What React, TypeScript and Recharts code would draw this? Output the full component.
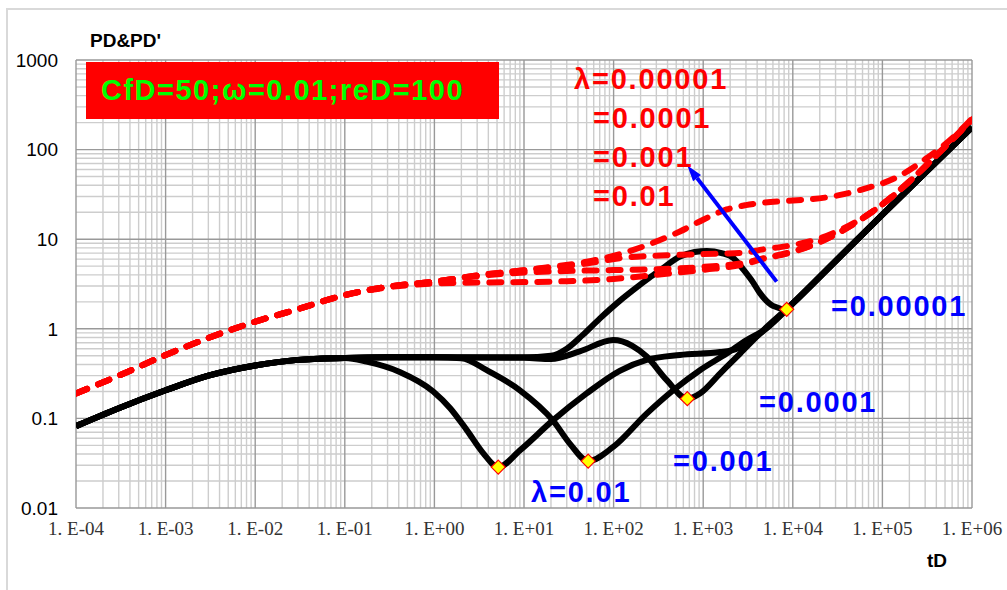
import React from 'react';
import { LineChart, Line, XAxis, YAxis, CartesianGrid, ReferenceLine } from 'recharts';

// axis ticks (log-log)
const xMajor = [1e-4, 1e-3, 1e-2, 1e-1, 1, 10, 100, 1e3, 1e4, 1e5, 1e6];
const xLabels = ['1. E-04', '1. E-03', '1. E-02', '1. E-01', '1. E+00', '1. E+01', '1. E+02', '1. E+03', '1. E+04', '1. E+05', '1. E+06'];
const yMajor = [0.01, 0.1, 1, 10, 100, 1000];
const yLabels = ['0.01', '0.1', '1', '10', '100', '1000'];
const minorSteps = [2, 3, 4, 5, 6, 7, 8, 9];

// PD' (black) — [tD, value]
const derivEarly = [[1e-4, 0.082], [3e-4, 0.13], [1e-3, 0.206], [3e-3, 0.3], [1e-2, 0.39], [3e-2, 0.45], [0.1, 0.472]];
const derivLate = [[1e4, 1.92], [3e4, 5.7], [1e5, 18.8], [3e5, 55], [1e6, 178]];
const derivL1e2 = [[0.175, 0.43], [0.41, 0.33], [0.97, 0.2], [1.5, 0.13], [2.3, 0.074], [3.5, 0.041], [5.16, 0.0286], [9, 0.044], [21, 0.095], [50, 0.19], [117, 0.34], [234, 0.45], [550, 0.51], [1540, 0.55], [2370, 0.6], [3300, 0.72], [5000, 1.0]];
const derivL1e3 = [[0.3, 0.48], [1, 0.48], [2, 0.47], [3.84, 0.345], [9, 0.206], [21, 0.095], [32.6, 0.052], [52, 0.0334], [99, 0.048], [234, 0.113], [463, 0.206], [920, 0.345], [1830, 0.53], [3060, 0.75], [5000, 1.0]];
const derivL1e4 = [[0.3, 0.48], [1, 0.48], [10, 0.475], [20, 0.46], [42, 0.56], [99, 0.75], [160, 0.65], [234, 0.49], [392, 0.267], [665, 0.166], [920, 0.19], [1540, 0.317], [2580, 0.53], [4300, 0.89]];
const derivL1e5 = [[0.3, 0.48], [1, 0.48], [10, 0.48], [20, 0.5], [30, 0.6], [45, 0.85], [70, 1.3], [117, 2.05], [165, 2.7], [250, 3.7], [330, 4.5], [550, 6.4], [800, 7.2], [1100, 7.4], [1600, 7.0], [2200, 6.1], [2800, 4.6], [3600, 3.3], [4300, 2.5], [6000, 1.8], [8550, 1.65]];
const dips = [[5.16, 0.0286], [52, 0.0334], [665, 0.166], [8550, 1.65]];

// PD (red dashed) — [tD, value]
const pdEarly = [[1e-4, 0.19], [3e-4, 0.3], [1e-3, 0.51], [3e-3, 0.79], [1e-2, 1.2], [3e-2, 1.66], [0.1, 2.38]];
const pdLate = [[1e5, 24.5], [2e5, 44], [4e5, 86], [1e6, 216]];
const pdL1e2 = [[0.3, 2.9], [1, 3.2], [3, 3.28], [10, 3.32], [30, 3.4], [100, 3.6], [300, 4.0], [1000, 4.55], [3000, 5.3], [4300, 5.9], [1e4, 7.2], [2e4, 9.3], [3e4, 11.3], [5e4, 15.2]];
const pdL1e3 = [[0.3, 2.95], [1, 3.36], [2, 3.7], [4, 3.98], [10, 4.25], [30, 4.42], [100, 4.52], [300, 4.62], [1000, 4.9], [3000, 5.5], [4300, 6.0], [1e4, 7.3], [2e4, 9.3], [3e4, 11.3], [5e4, 15.2]];
const pdL1e4 = [[0.3, 2.95], [1, 3.36], [3, 3.95], [10, 4.5], [20, 4.85], [50, 5.35], [128, 6.2], [250, 6.5], [550, 6.7], [1500, 6.9], [3000, 7.1], [4300, 7.6], [1e4, 8.6], [2e4, 10.2], [3e4, 12.0], [5e4, 15.5]];
const pdL1e5 = [[0.3, 2.95], [1, 3.36], [3, 3.95], [10, 4.5], [20, 4.9], [50, 5.6], [128, 7.0], [330, 9.8], [550, 12.2], [1000, 16.5], [1830, 21.5], [3000, 24], [4300, 25.3], [1e4, 27], [2.5e4, 29.5], [6e4, 36], [1.5e5, 50], [3e5, 78], [6e5, 134], [1e6, 222]];

// arrow: tail -> head, in (tD, value)
const arrowSeg = [[6600, 3.36], [665, 66.6]];

const redLabels = ['λ=0.00001', '=0.0001', '=0.001', '=0.01'];
const blueLabels = ['=0.00001', '=0.0001', '=0.001', 'λ=0.01'];

const pts = (a: number[][]) => a.map(([t, v]) => ({ t, v }));
const minorOf = (majors: number[]) =>
  majors.slice(0, -1).flatMap(m => minorSteps.map(k => +(m * k).toPrecision(4)));

const deriv = [derivL1e2, derivL1e3, derivL1e4, derivL1e5].map(mid => pts([...derivEarly, ...mid, ...derivLate]));
const pd = [
  pts([...pdEarly, ...pdL1e2, ...pdLate]),
  pts([...pdEarly, ...pdL1e3, ...pdLate]),
  pts([...pdEarly, ...pdL1e4, ...pdLate]),
  pts([...pdEarly, ...pdL1e5]),
];

const FONT = '"Liberation Sans", Arial, sans-serif';

const Diamond = (p: any) => {
  const { cx, cy, index } = p;
  if (cx == null || cy == null) return <g key={index} />;
  const r = 7;
  return (
    <polygon key={index} points={`${cx},${cy - r} ${cx + r},${cy} ${cx},${cy + r} ${cx - r},${cy}`}
      fill="#ffff00" stroke="#ff0000" strokeWidth={1.2} />
  );
};

const Arrow = (p: any) => {
  const { x1, y1, x2, y2 } = p;
  const a = Math.atan2(y2 - y1, x2 - x1);
  const L = 16, W = 5;
  const bx = x2 - L * Math.cos(a), by = y2 - L * Math.sin(a);
  const nx = -Math.sin(a) * W, ny = Math.cos(a) * W;
  return (
    <g>
      <line x1={x1} y1={y1} x2={bx} y2={by} stroke="#0000ff" strokeWidth={4} />
      <polygon points={`${x2},${y2} ${bx + nx},${by + ny} ${bx - nx},${by - ny}`} fill="#0000ff" />
    </g>
  );
};

const Label = ({ text, left, cy, color, size = 29, spacing = 1.8 }: any) => (
  <div style={{
    position: 'absolute', left, top: cy - size * 0.49, fontSize: size, lineHeight: 1,
    color, fontWeight: 'bold', fontFamily: FONT, whiteSpace: 'nowrap', letterSpacing: spacing,
  }}>{text}</div>
);

export default function App() {
  const redPos = [[574, 79], [593, 118], [593, 157], [593, 196]];
  const bluePos = [[831, 306], [759, 402], [673, 461], [531, 492]];
  return (
    <div style={{ position: 'absolute', left: 0, top: 0, width: 1007, height: 590, overflow: 'hidden', background: '#fff' }}>
      <div style={{ position: 'absolute', left: 6, top: 8, width: 1100, height: 700, border: '2px solid #d9d9d9' }} />
      <LineChart width={1007} height={590} margin={{ top: 60, right: 35, bottom: 52, left: 0 }}>
        <CartesianGrid verticalValues={minorOf(xMajor)} horizontalValues={minorOf(yMajor)} stroke="#cdcdcd" strokeWidth={1.4} />
        <CartesianGrid verticalValues={xMajor} horizontalValues={yMajor} stroke="#999999" strokeWidth={1.4} />
        <XAxis dataKey="t" type="number" scale="log" domain={[1e-4, 1e6]} ticks={xMajor} interval={0}
          allowDataOverflow axisLine={false} tickLine={false} height={30} tickMargin={8}
          tickFormatter={(v: number) => xLabels[xMajor.indexOf(v)] ?? ''}
          tick={{ fontSize: 19, fill: '#333', fontFamily: '"Liberation Serif", "Times New Roman", serif' }} />
        <YAxis dataKey="v" type="number" scale="log" domain={[0.01, 1000]} ticks={yMajor} interval={0}
          allowDataOverflow axisLine={false} tickLine={false} width={76} tickMargin={12}
          tickFormatter={(v: number) => yLabels[yMajor.indexOf(v)] ?? ''}
          tick={{ fontSize: 19, fill: '#000', fontFamily: FONT }} />
        {deriv.map((d, i) => (
          <Line key={`d${i}`} data={d} dataKey="v" type="monotone" stroke="#000" strokeWidth={6}
            dot={false} activeDot={false} isAnimationActive={false} />
        ))}
        {pd.map((d, i) => (
          <Line key={`p${i}`} data={d} dataKey="v" type="monotone" stroke="#ff0000" strokeWidth={6}
            strokeDasharray="12 12" strokeLinecap="round" dot={false} activeDot={false} isAnimationActive={false} />
        ))}
        <ReferenceLine segment={arrowSeg.map(([x, y]) => ({ x, y }))} shape={Arrow} />
        <Line data={pts(dips)} dataKey="v" stroke="none" dot={Diamond} activeDot={false} isAnimationActive={false} />
      </LineChart>
      <div style={{ position: 'absolute', left: 90, top: 30, fontSize: 19, fontWeight: 'bold', fontFamily: FONT }}>PD&amp;PD'</div>
      <div style={{ position: 'absolute', left: 927, top: 550, fontSize: 19, fontWeight: 'bold', fontFamily: FONT }}>tD</div>
      <div style={{ position: 'absolute', left: 86, top: 62, width: 413, height: 57, background: '#ff0000' }} />
      <Label text="CfD=50;ω=0.01;reD=100" left={101} cy={90} color="#00ff00" size={29} spacing={1.5} />
      {redLabels.map((t, i) => <Label key={t} text={t} left={redPos[i][0]} cy={redPos[i][1]} color="#ff0000" />)}
      {blueLabels.map((t, i) => <Label key={t} text={t} left={bluePos[i][0]} cy={bluePos[i][1]} color="#0000ff" />)}
    </div>
  );
}
